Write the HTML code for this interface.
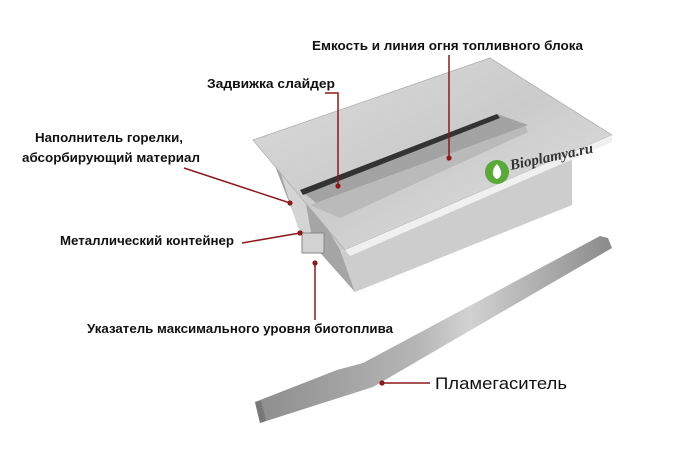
<!DOCTYPE html>
<html><head><meta charset="utf-8"><style>
html,body{margin:0;padding:0;background:#fff;}
svg{display:block}
text{font-family:"Liberation Sans","DejaVu Sans",sans-serif;fill:#111;}
</style></head><body>
<svg width="675" height="461" viewBox="0 0 675 461" xmlns="http://www.w3.org/2000/svg">
<defs>
<linearGradient id="plate" x1="0" y1="0" x2="1" y2="1">
<stop offset="0" stop-color="#dcdcdc"/><stop offset="0.5" stop-color="#cbcbcb"/><stop offset="1" stop-color="#e4e4e4"/>
</linearGradient>
<linearGradient id="side" x1="0" y1="0" x2="1" y2="0">
<stop offset="0" stop-color="#c4c4c4"/><stop offset="1" stop-color="#dcdcdc"/>
</linearGradient>
<linearGradient id="strip" x1="0" y1="0" x2="1" y2="0">
<stop offset="0" stop-color="#8d8d8d"/><stop offset="0.45" stop-color="#b5b5b5"/><stop offset="0.6" stop-color="#d2d2d2"/><stop offset="1" stop-color="#8a8a8a"/>
</linearGradient>
</defs>
<polygon points="268,148 572,135 572,205 355,292 300,230" fill="url(#side)"/>
<polygon points="268,148 300,230 355,292 340,250 290,165" fill="#a5a5a5"/>
<polygon points="275,155 298,228 312,238 300,170" fill="#d4d4d4"/>
<polygon points="340,250 355,292 572,205 572,160" fill="#cdcdcd"/>
<polygon points="253,140 490,58 612,135 345,250" fill="url(#plate)" stroke="#b0b0b0" stroke-width="0.8"/>
<polygon points="300,190 497,114 528,125 325,210" fill="#a3a3a3"/>
<polygon points="300,190 497,114 500,118 303,195" fill="#333"/>
<polygon points="310,205 525,126 528,132 340,218" fill="#bababa"/>
<polygon points="345,250 612,135 612,142 350,256" fill="#f0f0f0"/>
<rect x="302" y="233" width="22" height="20" fill="#d2d2d2" stroke="#888" stroke-width="1"/>
<polygon points="600,236 608,238 612,248 373,387 260,423 255,402 337,370 363,363" fill="url(#strip)"/>
<polygon points="255,402 260,423 266,421 261,401" fill="#777"/>
<circle cx="497" cy="172" r="12" fill="#5aa83a"/>
<path d="M497,164 c-6,6 -5,13 0,15 c5,-2 6,-8 0,-15z" fill="#fff"/>
<text x="511" y="170" font-size="15" font-style="italic" font-weight="bold" style="font-family:'Liberation Serif',serif;fill:#333" transform="rotate(-12 511 170)">Bioplamya.ru</text>
<g stroke="#8b1a1a" stroke-width="1.5" fill="none">
<polyline points="449,55 449,158"/>
<polyline points="325,93 338,93 338,186"/>
<polyline points="184,168 290,203"/>
<polyline points="242,243 300,233"/>
<polyline points="315,263 315,320"/>
<polyline points="382,383 430,383"/>
</g>
<g fill="#8b1a1a">
<circle cx="449" cy="158" r="2.6"/><circle cx="338" cy="186" r="2.6"/>
<circle cx="290" cy="203" r="2.6"/><circle cx="300" cy="233" r="2.6"/>
<circle cx="315" cy="263" r="2.6"/><circle cx="382" cy="383" r="2.6"/>
</g>
<g font-size="13" font-weight="bold">
<text x="312" y="50" textLength="271" lengthAdjust="spacingAndGlyphs">Емкость и линия огня топливного блока</text>
<text x="207" y="88" textLength="128" lengthAdjust="spacingAndGlyphs">Задвижка слайдер</text>
<text x="35" y="142" textLength="148" lengthAdjust="spacingAndGlyphs">Наполнитель горелки,</text>
<text x="22" y="162" textLength="178" lengthAdjust="spacingAndGlyphs">абсорбирующий материал</text>
<text x="60" y="245" textLength="174" lengthAdjust="spacingAndGlyphs">Металлический контейнер</text>
<text x="87" y="333" textLength="306" lengthAdjust="spacingAndGlyphs">Указатель максимального уровня биотоплива</text>
</g>
<text x="435" y="389" font-size="17" textLength="132" lengthAdjust="spacingAndGlyphs">Пламегаситель</text>
</svg>
</body></html>
